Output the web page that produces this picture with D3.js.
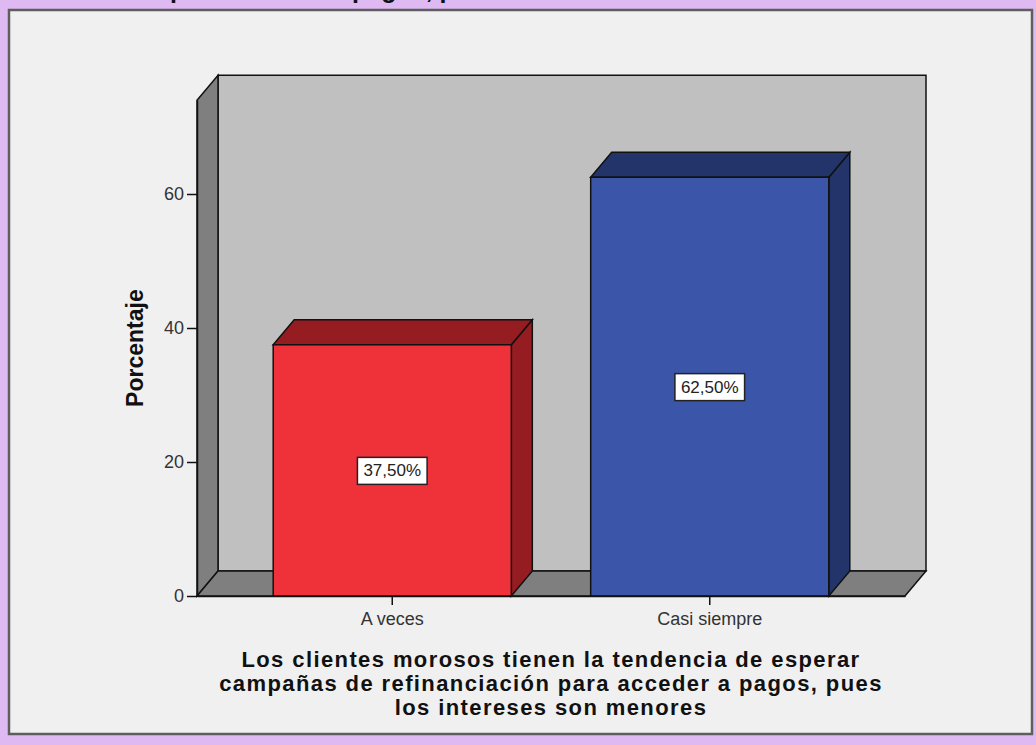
<!DOCTYPE html>
<html>
<head>
<meta charset="utf-8">
<script src="https://cdn.jsdelivr.net/npm/d3@7/dist/d3.min.js"></script>
<style>
  html, body { margin: 0; padding: 0; background: #dfb9f2; }
  svg { display: block; }
</style>
</head>
<body>
<svg id="chart" width="1036" height="745"></svg>
<script>
// Chart data
const categories = ["A veces", "Casi siempre"];
const percentages = [37.5, 62.5];
const valueLabels = ["37,50%", "62,50%"];
const yTicks = [0, 20, 40, 60];
const yTitle = "Porcentaje";
const xTitleLines = [
  "Los clientes morosos tienen la tendencia de esperar",
  "campañas de refinanciación para acceder a pagos, pues",
  "los intereses son menores"
];
const headerText = "para acceder a pagos, pues los intereses son menores";

// Styling
const frontColors = ["#ef313a", "#3b56a8"];
const darkColors = ["#951c21", "#23346a"];
const sans = "'Liberation Sans', Arial, sans-serif";

const svg = d3.select("#chart");

// Header line mostly cut off by the page top
svg.append("text")
  .attr("x", 170).attr("y", -2)
  .attr("font-family", sans).attr("font-weight", "bold").attr("font-size", 25)
  .attr("fill", "#111")
  .text(headerText);

// Chart panel
svg.append("rect")
  .attr("x", 9).attr("y", 10).attr("width", 1023).attr("height", 724)
  .attr("fill", "#f0f0f0").attr("stroke", "#5e5e5e").attr("stroke-width", 2.5);

// Plot geometry
const x0 = 197, x1 = 905, yBase = 596;
const dx = 21, dy = 25;

const y = d3.scaleLinear().domain([0, 74]).range([yBase, yBase - 74 * 6.7]);
const x = d3.scaleBand().domain(categories).range([x0, x1])
  .paddingInner(0.25).paddingOuter(0.24);

const yTop = y(74);
const g = svg.append("g");
const line = "#111";

// Back wall
g.append("polygon")
  .attr("points", [[x0 + dx, yTop - dy], [x1 + dx, yTop - dy], [x1 + dx, yBase - dy], [x0 + dx, yBase - dy]].join(" "))
  .attr("fill", "#c0c0c0").attr("stroke", line).attr("stroke-width", 1.5);
// Left wall
g.append("polygon")
  .attr("points", [[x0, yTop], [x0 + dx, yTop - dy], [x0 + dx, yBase - dy], [x0, yBase]].join(" "))
  .attr("fill", "#7f7f7f").attr("stroke", line).attr("stroke-width", 1.5);
// Floor
g.append("polygon")
  .attr("points", [[x0, yBase], [x0 + dx, yBase - dy], [x1 + dx, yBase - dy], [x1, yBase]].join(" "))
  .attr("fill", "#7f7f7f").attr("stroke", line).attr("stroke-width", 1.5);

// Bars
const bars = g.selectAll("g.bar").data(categories).join("g").attr("class", "bar");
const bw = x.bandwidth();
bars.each(function (c, i) {
  const b = d3.select(this);
  const bx = x(c), by = y(percentages[i]);
  b.append("polygon")
    .attr("points", [[bx + bw, by], [bx + bw + dx, by - dy], [bx + bw + dx, yBase - dy], [bx + bw, yBase]].join(" "))
    .attr("fill", darkColors[i]).attr("stroke", line).attr("stroke-width", 1.5);
  b.append("polygon")
    .attr("points", [[bx, by], [bx + dx, by - dy], [bx + bw + dx, by - dy], [bx + bw, by]].join(" "))
    .attr("fill", darkColors[i]).attr("stroke", line).attr("stroke-width", 1.5);
  b.append("rect")
    .attr("x", bx).attr("y", by).attr("width", bw).attr("height", yBase - by)
    .attr("fill", frontColors[i]).attr("stroke", line).attr("stroke-width", 1.5);

  // Value label box
  const cx = bx + bw / 2, cy = (by + yBase) / 2;
  const lbl = b.append("g");
  const t = lbl.append("text")
    .attr("x", cx).attr("y", cy + 6)
    .attr("text-anchor", "middle")
    .attr("font-family", sans).attr("font-size", 17).attr("fill", "#222")
    .text(valueLabels[i]);
  const tw = t.node().getComputedTextLength();
  lbl.insert("rect", "text")
    .attr("x", cx - tw / 2 - 6).attr("y", cy - 13)
    .attr("width", tw + 12).attr("height", 27)
    .attr("fill", "#fff").attr("stroke", "#222").attr("stroke-width", 1.5);
});

// Y axis
const yAxis = svg.append("g")
  .attr("transform", `translate(${x0},0)`)
  .call(d3.axisLeft(y).tickValues(yTicks).tickSize(10).tickSizeOuter(0).tickPadding(3));
yAxis.select(".domain").attr("stroke", line).attr("stroke-width", 1.5);
yAxis.selectAll(".tick line").attr("stroke", line).attr("stroke-width", 1.5);
yAxis.selectAll(".tick text").attr("font-family", sans).attr("font-size", 18).attr("fill", "#333");

// X axis
const xAxis = svg.append("g")
  .attr("transform", `translate(0,${yBase})`)
  .call(d3.axisBottom(x).tickSize(9).tickSizeOuter(0).tickPadding(7));
xAxis.select(".domain").attr("stroke", line).attr("stroke-width", 1.5);
xAxis.selectAll(".tick line").attr("stroke", line).attr("stroke-width", 1.5);
xAxis.selectAll(".tick text").attr("font-family", sans).attr("font-size", 18).attr("fill", "#333");

// Axis titles
svg.append("text")
  .attr("transform", `translate(143,${(yTop + yBase) / 2}) rotate(-90)`)
  .attr("text-anchor", "middle")
  .attr("font-family", sans).attr("font-weight", "bold").attr("font-size", 23).attr("fill", "#111")
  .text(yTitle);

svg.append("text")
  .attr("text-anchor", "middle")
  .attr("font-family", sans).attr("font-weight", "bold").attr("font-size", 22)
  .attr("letter-spacing", 1.4).attr("fill", "#111")
  .selectAll("tspan").data(xTitleLines).join("tspan")
  .attr("x", 551).attr("y", (d, i) => 667 + i * 24)
  .text(d => d);
</script>
</body>
</html>
